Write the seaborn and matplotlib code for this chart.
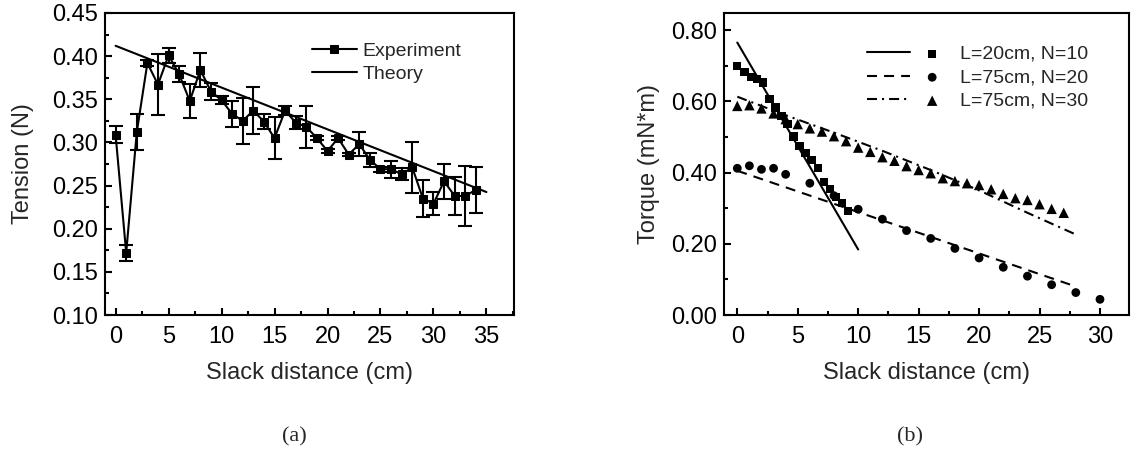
import numpy as np
import pandas as pd
import matplotlib
matplotlib.use("Agg")
import matplotlib.pyplot as plt
import seaborn as sns
from matplotlib.ticker import MultipleLocator
from matplotlib.legend_handler import HandlerTuple

# ---------------- data: panel (a) ----------------
exp_x = list(range(0, 35))
exp_tension = [0.309, 0.172, 0.312, 0.392, 0.367, 0.401, 0.379, 0.348, 0.384, 0.359,
               0.349, 0.333, 0.325, 0.337, 0.324, 0.305, 0.337, 0.323, 0.318, 0.305,
               0.290, 0.305, 0.286, 0.298, 0.280, 0.269, 0.269, 0.263, 0.271, 0.235,
               0.229, 0.255, 0.238, 0.238, 0.245]
exp_err = [0.010, 0.009, 0.021, 0.003, 0.035, 0.009, 0.009, 0.020, 0.020, 0.010,
           0.005, 0.015, 0.027, 0.027, 0.009, 0.024, 0.005, 0.008, 0.024, 0.002,
           0.002, 0.002, 0.002, 0.014, 0.008, 0.003, 0.010, 0.007, 0.030, 0.021,
           0.013, 0.020, 0.022, 0.035, 0.027]
theory_x = [0, 35]
theory_tension = [0.412, 0.2425]

# ---------------- data: panel (b) ----------------
sq_x = [0, 0.6, 1.15, 1.65, 2.15, 2.65, 3.15, 3.65, 4.15, 4.65, 5.15, 5.65, 6.15,
        6.65, 7.15, 7.65, 8.15, 8.65, 9.15]
sq_y = [0.700, 0.683, 0.669, 0.662, 0.653, 0.606, 0.583, 0.559, 0.536, 0.501, 0.475,
        0.454, 0.435, 0.413, 0.374, 0.353, 0.332, 0.314, 0.292]
sq_fit_x = [0, 10]
sq_fit_y = [0.765, 0.184]

ci_x = [0, 1, 2, 3, 4, 6, 8, 10, 12, 14, 16, 18, 20, 22, 24, 26, 28, 30]
ci_y = [0.412, 0.419, 0.409, 0.412, 0.395, 0.370, 0.335, 0.297, 0.269, 0.237, 0.215,
        0.187, 0.160, 0.134, 0.109, 0.085, 0.063, 0.044]
ci_fit_x = [0, 28]
ci_fit_y = [0.405, 0.080]

tr_x = list(range(0, 28))
tr_y = [0.587, 0.589, 0.580, 0.566, 0.550, 0.536, 0.524, 0.515, 0.502, 0.488, 0.470,
        0.458, 0.443, 0.433, 0.418, 0.407, 0.398, 0.384, 0.376, 0.370, 0.365, 0.353,
        0.340, 0.328, 0.323, 0.311, 0.298, 0.287]
tr_fit_x = [0, 4, 8, 12, 16, 20, 24, 28]
tr_fit_y = [0.613, 0.561, 0.512, 0.461, 0.407, 0.350, 0.287, 0.226]

labels_b = ["L=20cm, N=10", "L=75cm, N=20", "L=75cm, N=30"]

# ---------------- style ----------------
sns.set_theme(style="ticks")
plt.rcParams['font.family'] = ['Liberation Sans', 'DejaVu Sans']
plt.rcParams['axes.linewidth'] = 1.5

TICK = 17
LAB = 17
LEG = 14

fig = plt.figure(figsize=(11.31, 4.55), dpi=100)
W, H = 1131, 455
axA = fig.add_axes([105 / W, 1 - 315 / H, (514 - 105) / W, (315 - 13) / H])
axB = fig.add_axes([724 / W, 1 - 315 / H, (1129 - 724) / W, (315 - 13) / H])


def style_axes(ax):
    for s in ax.spines.values():
        s.set_linewidth(1.5)
        s.set_color('black')
    ax.tick_params(which='both', direction='in', top=False, right=False,
                   width=1.5, colors='black', labelsize=TICK)
    ax.tick_params(which='major', length=5)
    ax.tick_params(which='minor', length=3)
    ax.tick_params(axis='x', which='both', pad=8)
    ax.tick_params(axis='y', which='both', pad=5)


# ---------------- panel (a) ----------------
dfA = pd.DataFrame({"x": exp_x, "y": exp_tension, "e": exp_err})
axA.errorbar(dfA["x"], dfA["y"], yerr=dfA["e"], fmt='none', ecolor='black',
             elinewidth=1.5, capsize=5, capthick=1.5, zorder=2)
sns.lineplot(data=dfA, x="x", y="y", ax=axA, color='black', lw=1.5, marker='s',
             markersize=5.5, markeredgecolor='black', label='Experiment', zorder=3)
sns.lineplot(x=theory_x, y=theory_tension, ax=axA, color='black', lw=1.5,
             label='Theory', zorder=3)
axA.set_xlim(-1.0, 37.6)
axA.set_ylim(0.10, 0.45)
axA.xaxis.set_major_locator(MultipleLocator(5))
axA.xaxis.set_minor_locator(MultipleLocator(2.5))
axA.yaxis.set_major_locator(MultipleLocator(0.05))
axA.yaxis.set_minor_locator(MultipleLocator(0.025))
axA.yaxis.set_major_formatter(matplotlib.ticker.FormatStrFormatter('%.2f'))
axA.set_xlabel("Slack distance (cm)", fontsize=LAB, labelpad=10)
axA.set_ylabel("Tension (N)", fontsize=LAB, labelpad=13)
style_axes(axA)
axA.legend(loc='upper left', bbox_to_anchor=(0.506, 0.902), frameon=False,
           fontsize=LEG, handlelength=2.3, handletextpad=0.3, labelspacing=0.25,
           borderpad=0, borderaxespad=0)

# ---------------- panel (b) ----------------
l1 = sns.lineplot(x=sq_fit_x, y=sq_fit_y, ax=axB, color='black', lw=1.5).lines[-1]
l2 = sns.lineplot(x=ci_fit_x, y=ci_fit_y, ax=axB, color='black', lw=1.5,
                  linestyle=(0, (4.8, 3.4))).lines[-1]
l3 = sns.lineplot(x=tr_fit_x, y=tr_fit_y, ax=axB, color='black', lw=1.5,
                  linestyle=(0, (4.8, 2.4, 1.0, 2.4))).lines[-1]
sns.scatterplot(x=sq_x, y=sq_y, ax=axB, marker='s', s=36, color='black',
                edgecolor='none', zorder=3)
s1 = axB.collections[-1]
sns.scatterplot(x=ci_x, y=ci_y, ax=axB, marker='o', s=40, color='black',
                edgecolor='none', zorder=3)
s2 = axB.collections[-1]
sns.scatterplot(x=tr_x, y=tr_y, ax=axB, marker='^', s=56, color='black',
                edgecolor='none', zorder=3)
s3 = axB.collections[-1]
axB.set_xlim(-1.1, 32.4)
axB.set_ylim(0.0, 0.848)
axB.xaxis.set_major_locator(MultipleLocator(5))
axB.xaxis.set_minor_locator(MultipleLocator(2.5))
axB.yaxis.set_major_locator(MultipleLocator(0.2))
axB.yaxis.set_minor_locator(MultipleLocator(0.1))
axB.yaxis.set_major_formatter(matplotlib.ticker.FormatStrFormatter('%.2f'))
axB.set_xlabel("Slack distance (cm)", fontsize=LAB, labelpad=10)
axB.set_ylabel("Torque (mN*m)", fontsize=LAB, labelpad=8)
style_axes(axB)
axB.legend([(l1, s1), (l2, s2), (l3, s3)], labels_b,
           handler_map={tuple: HandlerTuple(ndivide=2, pad=0)},
           loc='upper left', bbox_to_anchor=(0.352, 0.893), frameon=False,
           fontsize=LEG, handlelength=4.5, handletextpad=0.3, labelspacing=0.3,
           borderpad=0, borderaxespad=0, scatterpoints=1)

fig.text(294 / W, 1 - 437 / H, "(a)", family=['Liberation Serif', 'DejaVu Serif'],
         fontsize=16, ha='center', va='center')
fig.text(910 / W, 1 - 437 / H, "(b)", family=['Liberation Serif', 'DejaVu Serif'],
         fontsize=16, ha='center', va='center')

fig.savefig("out.png", dpi=100)
